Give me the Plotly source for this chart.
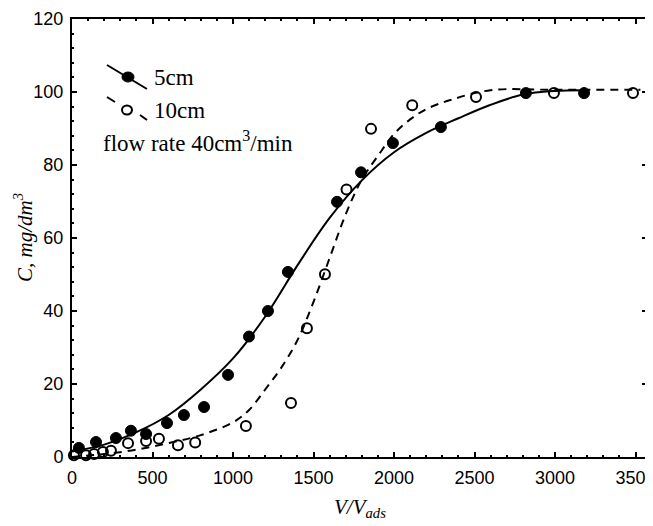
import plotly.graph_objects as go

# ---- data ----
filled_x = [43, 149, 273, 366, 460, 590, 695, 820, 969, 1099, 1217, 1341, 1646, 1795, 1993, 2291, 2819, 3180]
filled_y = [2.5, 4.1, 5.2, 7.2, 6.3, 9.3, 11.5, 13.7, 22.5, 33, 40, 50.7, 69.9, 78, 86, 90.4, 99.7, 99.7]

open_x = [12, 87, 137, 192, 242, 348, 460, 540, 658, 765, 1080, 1360, 1459, 1571, 1705, 1857, 2113, 2509, 2993, 3484]
open_y = [0.5, 0.5, 0.8, 1.4, 1.7, 3.8, 4.4, 5.0, 3.2, 4.0, 8.5, 14.8, 35.3, 50.1, 73.3, 89.9, 96.4, 98.6, 99.7, 99.7]

fit5_x = [0, 200, 400, 600, 800, 1000, 1200, 1400, 1600, 1800, 2000, 2200, 2400, 2600, 2800, 3000, 3180]
fit5_y = [1.5, 3.4, 6.8, 11.5, 18.5, 27.0, 38.5, 52.5, 65.5, 75.8, 83.5, 88.8, 92.8, 96.5, 99.3, 100.3, 100.5]

fit10_x = [0, 200, 400, 600, 800, 1000, 1100, 1200, 1300, 1400, 1500, 1600, 1700, 1800, 1900, 2000, 2100, 2200, 2350, 2600, 3000, 3530]
fit10_y = [0, 0.8, 2.0, 3.8, 6.0, 9.5, 12.9, 18.5, 24.5, 32, 42.5, 54.5, 66.5, 76, 82.5, 88.5, 92.5, 95.3, 97.8, 100.5, 100.6, 100.6]

x_ticks = [0, 500, 1000, 1500, 2000, 2500, 3000, 3500]
y_ticks = [0, 20, 40, 60, 80, 100, 120]

# page body has an 8px margin: figure origin sits at (8, 8) in the window
OFF = 8
W, H = 653, 526 - OFF
# plot area in window pixels
L, R, T, B = 72, 647, 19, 457


def px(xp):
    return (xp - L) / (R - L)


def py(yp):
    return (B - yp) / (B - T)


fig = go.Figure()
fig.add_trace(go.Scatter(x=fit5_x, y=fit5_y, mode="lines", line=dict(color="black", width=2, shape="spline"),
                         showlegend=False, hoverinfo="skip", cliponaxis=False))
fig.add_trace(go.Scatter(x=fit10_x, y=fit10_y, mode="lines",
                         line=dict(color="black", width=2, dash="8px,6px", shape="spline"),
                         showlegend=False, hoverinfo="skip", cliponaxis=False))
fig.add_trace(go.Scatter(x=filled_x, y=filled_y, mode="markers",
                         marker=dict(symbol="circle", size=11, color="black", line=dict(color="black", width=1)),
                         showlegend=False, cliponaxis=False))
fig.add_trace(go.Scatter(x=open_x, y=open_y, mode="markers",
                         marker=dict(symbol="circle-open", size=10, color="black", line=dict(color="black", width=2)),
                         showlegend=False, cliponaxis=False))

serif = "Liberation Serif, Times New Roman, serif"
sans = "Liberation Sans, Arial, sans-serif"

axis_common = dict(
    showline=True, linecolor="black", linewidth=2, mirror="allticks",
    ticks="inside", ticklen=5, tickwidth=1.5, tickcolor="black",
    showgrid=False, zeroline=False, automargin=False,
    tickfont=dict(family=sans, size=18, color="black"),
)

fig.update_xaxes(range=[0, 3571], tickvals=x_ticks, ticktext=[str(v) for v in x_ticks],
                 ticklabelstandoff=3,
                 minor=dict(dtick=100, ticks="inside", ticklen=2, tickwidth=1.5, tickcolor="black", showgrid=False),
                 **axis_common)
fig.update_yaxes(range=[0, 120], tickvals=y_ticks, ticktext=[str(v) for v in y_ticks],
                 ticklabelstandoff=3,
                 minor=dict(dtick=4, ticks="inside", ticklen=2, tickwidth=1.5, tickcolor="black", showgrid=False),
                 **axis_common)

shapes = [
    dict(type="line", xref="paper", yref="paper", x0=px(107), y0=py(65), x1=px(147), y1=py(89),
         line=dict(color="black", width=2)),
    dict(type="circle", xref="paper", yref="paper", xsizemode="pixel", ysizemode="pixel",
         xanchor=px(128), yanchor=py(77), x0=-6, x1=6, y0=-5, y1=5,
         fillcolor="black", line=dict(color="black", width=1)),
    dict(type="line", xref="paper", yref="paper", x0=px(107), y0=py(97), x1=px(115), y1=py(102),
         line=dict(color="black", width=2)),
    dict(type="circle", xref="paper", yref="paper", xsizemode="pixel", ysizemode="pixel",
         xanchor=px(127), yanchor=py(110), x0=-5, x1=5, y0=-4.5, y1=4.5,
         fillcolor="white", line=dict(color="black", width=2)),
    dict(type="line", xref="paper", yref="paper", x0=px(140), y0=py(115), x1=px(147), y1=py(120),
         line=dict(color="black", width=2)),
]

annotations = [
    dict(text="5cm", x=px(152), y=py(77), xref="paper", yref="paper", xanchor="left", yanchor="middle",
         showarrow=False, font=dict(family=serif, size=23, color="black")),
    dict(text="10cm", x=px(152), y=py(110), xref="paper", yref="paper", xanchor="left", yanchor="middle",
         showarrow=False, font=dict(family=serif, size=23, color="black")),
    dict(text="flow rate 40cm<sup>3</sup>/min", x=px(101), y=py(141), xref="paper", yref="paper",
         xanchor="left", yanchor="middle", showarrow=False, font=dict(family=serif, size=23, color="black")),
    dict(text="<i>C, mg/dm<sup>3</sup></i>", x=px(23), y=0.5, xref="paper", yref="paper",
         xanchor="center", yanchor="middle", textangle=-90, showarrow=False,
         font=dict(family=serif, size=21, color="black")),
    dict(text="<i>V/V<sub>ads</sub></i>", x=0.5, y=py(508), xref="paper", yref="paper",
         xanchor="center", yanchor="middle", showarrow=False,
         font=dict(family=serif, size=21, color="black")),
]

fig.update_layout(
    width=W, height=H,
    margin=dict(l=L - OFF, r=W - (R - OFF), t=T - OFF, b=H - (B - OFF), pad=0),
    plot_bgcolor="white", paper_bgcolor="white",
    shapes=shapes, annotations=annotations, showlegend=False,
)

fig.write_html("out.html")
